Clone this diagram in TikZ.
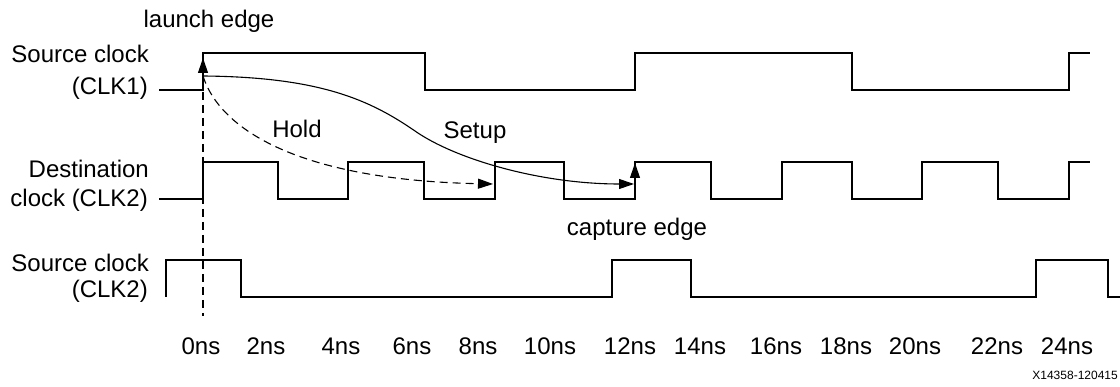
\documentclass[tikz,border=0pt]{standalone}
\usepackage{fontspec}
\setmainfont{Liberation Sans}
\usetikzlibrary{arrows.meta}
\tikzset{
  wave/.style={line width=2.2pt, line join=miter},
  lbl/.style={inner sep=0pt, font=\fontsize{24}{30}\selectfont},
  small/.style={inner sep=0pt, font=\fontsize{12}{14}\selectfont},
  thin/.style={line width=1.1pt},
  dsh/.style={line width=1.1pt, dash pattern=on 8pt off 5pt},
  tip/.style={-{Triangle[length=15pt,width=10pt]}}
}
\begin{document}
\begin{tikzpicture}[x=1pt,y=-1pt]
\useasboundingbox (0,0) rectangle (1120,387);
% waveforms
\draw[wave] (159,90) -- (203,90) -- (203,53) -- (425,53) -- (425,90) -- (635,90) -- (635,53) -- (852,53) -- (852,90) -- (1069,90) -- (1069,53) -- (1090,53);
\draw[wave] (159,199) -- (203,199) -- (203,162) -- (278,162) -- (278,199) -- (348,199) -- (348,162) -- (424,162) -- (424,199) -- (495,199) -- (495,162) -- (564,162) -- (564,199) -- (635,199) -- (635,162) -- (711,162) -- (711,199) -- (782,199) -- (782,162) -- (852,162) -- (852,199) -- (922,199) -- (922,162) -- (998,162) -- (998,199) -- (1069,199) -- (1069,162) -- (1090,162);
\draw[wave] (166,297) -- (166,260) -- (241,260) -- (241,297) -- (612,297) -- (612,260) -- (691,260) -- (691,297) -- (1036,297) -- (1036,260) -- (1108,260) -- (1108,297) -- (1120,297);
% named points
\coordinate (launch) at (203,76);
\coordinate (launchtip) at (203,58);
\coordinate (launchbase) at (203,88);
\coordinate (holdend) at (493,184);
\coordinate (setupend) at (634,184);
\coordinate (capbase) at (635,192);
\coordinate (captip) at (635,163);
\coordinate (dtop) at (203,92);
\coordinate (dbot) at (203,316);
% dashed reference line
\draw[dsh] (dtop) -- (dbot);
% edge arrows
\draw[thin,tip] (launchbase) -- (launchtip);
\draw[thin,tip] (capbase) -- (captip);
% setup path
\draw[thin,tip] (launch) .. controls (320,77) and (370,100) .. (415,131) .. controls (455,159) and (540,184) .. (setupend);
% hold path
\draw[dsh,tip] (launch) .. controls (220,130) and (300,180) .. (holdend);
% labels
\node[lbl,anchor=base] (le) at (209,28) {launch edge};
\node[lbl,anchor=base east] (s1a) at (149,63) {Source clock};
\node[lbl,anchor=base east] (s1b) at (148,95) {(CLK1)};
\node[lbl,anchor=base east] (d2a) at (149,178) {Destination};
\node[lbl,anchor=base east] (d2b) at (148,207) {clock (CLK2)};
\node[lbl,anchor=base east] (s2a) at (149,272) {Source clock};
\node[lbl,anchor=base east] (s2b) at (148,298) {(CLK2)};
\node[lbl,anchor=base] (hold) at (297,138) {Hold};
\node[lbl,anchor=base] (setup) at (475,139) {Setup};
\node[lbl,anchor=base] (ce) at (637,236) {capture edge};
\node[lbl,anchor=base] (t0) at (201,355) {0ns};
\node[lbl,anchor=base] (t2) at (266,355) {2ns};
\node[lbl,anchor=base] (t4) at (341,355) {4ns};
\node[lbl,anchor=base] (t6) at (412,355) {6ns};
\node[lbl,anchor=base] (t8) at (478,355) {8ns};
\node[lbl,anchor=base] (t10) at (550,355) {10ns};
\node[lbl,anchor=base] (t12) at (630,355) {12ns};
\node[lbl,anchor=base] (t14) at (700,355) {14ns};
\node[lbl,anchor=base] (t16) at (776,355) {16ns};
\node[lbl,anchor=base] (t18) at (846,355) {18ns};
\node[lbl,anchor=base] (t20) at (915,355) {20ns};
\node[lbl,anchor=base] (t22) at (997,355) {22ns};
\node[lbl,anchor=base] (t24) at (1067,355) {24ns};
\node[small,anchor=base east] (fig) at (1118,380) {X14358-120415};
\end{tikzpicture}
\end{document}
